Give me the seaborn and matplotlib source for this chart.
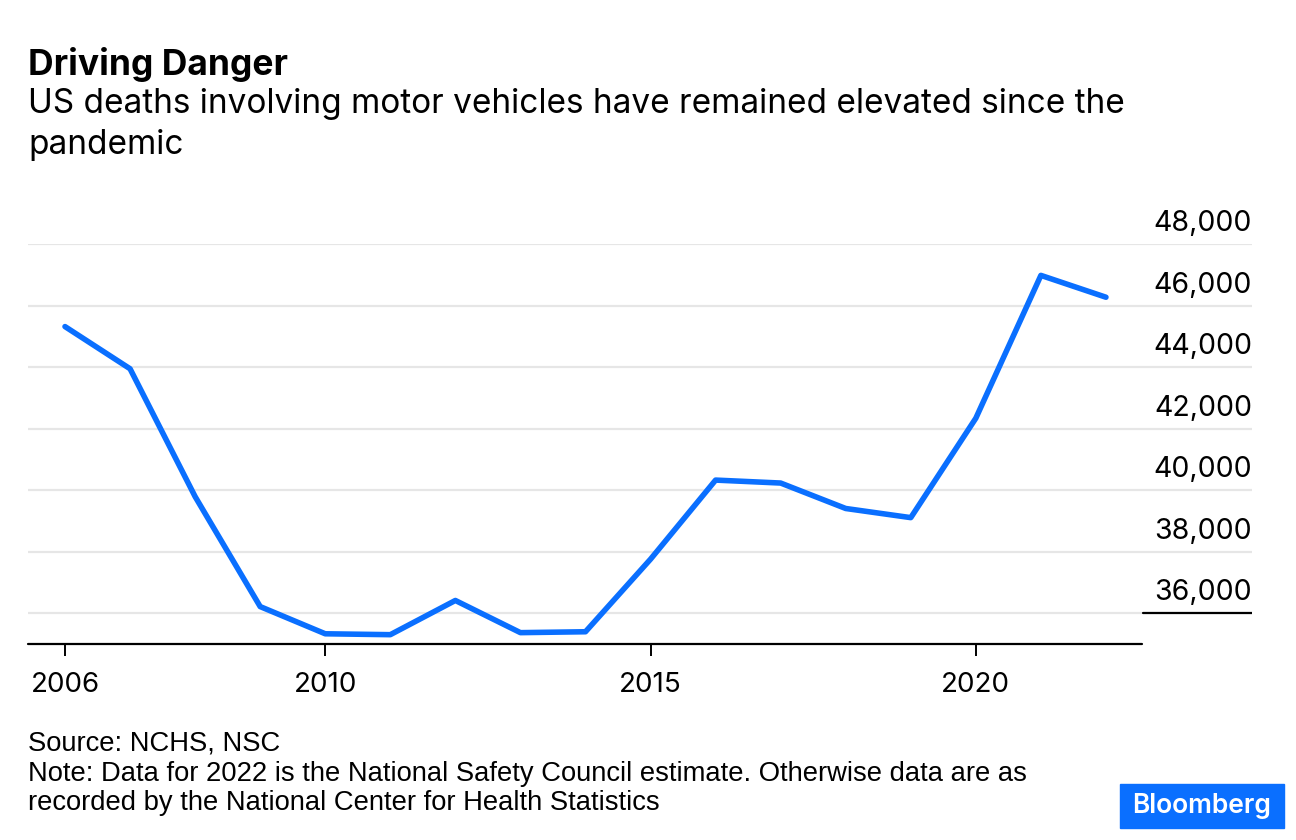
import matplotlib
matplotlib.use("Agg")
import matplotlib.pyplot as plt
import matplotlib.transforms as mtransforms
from matplotlib.patches import Rectangle
import seaborn as sns
import pandas as pd

# data
years = [2006, 2007, 2008, 2009, 2010, 2011, 2012, 2013, 2014,
         2015, 2016, 2017, 2018, 2019, 2020, 2021, 2022]
deaths = [45316, 43945, 39790, 36216, 35332, 35303, 36415, 35369, 35398,
          37757, 40327, 40231, 39404, 39107, 42339, 46980, 46270]
y_ticks = [36000, 38000, 40000, 42000, 44000, 46000, 48000]
x_ticks = [2006, 2010, 2015, 2020]

title = "Driving Danger"
subtitle_lines = ["US deaths involving motor vehicles have remained elevated since the",
                  "pandemic"]
source = "Source: NCHS, NSC"
note_lines = ["Note: Data for 2022 is the National Safety Council estimate. Otherwise data are as",
              "recorded by the National Center for Health Statistics"]

BLUE = "#0a6fff"
W, H = 1296, 840

sns.set_theme(style="white")
plt.rcParams['font.family'] = ['Inter', 'DejaVu Sans']
plt.rcParams['text.color'] = 'black'
plt.rcParams['xtick.color'] = 'black'

df = pd.DataFrame({"year": years, "deaths": deaths})

fig = plt.figure(figsize=(W / 100, H / 100), dpi=100)
# axes box in pixel coords: left 28, right 1252, top 244, bottom 644
ax = fig.add_axes([28 / W, 1 - 644 / H, (1252 - 28) / W, (644 - 244) / H])

x0 = 2006 - (65 - 28) / 65.06
x1 = 2006 + (1252 - 65) / 65.06
ax.set_xlim(x0, x1)
ax.set_ylim(35000, 48000)

# gridlines
for v in y_ticks:
    ax.axhline(v, color="#e6e6e6", lw=1.6, zorder=0)
# short dark segment under the bottom y label
ax.axhline(36000, xmin=(1143 - 28) / (1252 - 28), xmax=1.0, color="black", lw=1.6, zorder=1)

sns.lineplot(data=df, x="year", y="deaths", color=BLUE, lw=4.0, ax=ax, zorder=3)

for s in ax.spines.values():
    s.set_visible(False)
# x axis line, only under the plotting area
ax.axhline(35000, xmin=0, xmax=(1142 - 28) / (1252 - 28), color="black", lw=1.6,
           zorder=4, clip_on=False)

ax.set_xticks(x_ticks)
ax.set_xticklabels([str(t) for t in x_ticks], fontsize=20)
ax.tick_params(axis="x", bottom=True, length=8.5, width=1.4, color="black", pad=12,
               direction="out")
ax.set_yticks([])
ax.set_xlabel("")
ax.set_ylabel("")

# y labels sit above the gridlines at the right edge
trans = mtransforms.blended_transform_factory(ax.transAxes, ax.transData)
trans = trans + mtransforms.ScaledTranslation(0, 7 / 100, fig.dpi_scale_trans)
for v in y_ticks:
    ax.text(1.0, v, f"{v:,}", transform=trans, ha="right", va="bottom",
            fontsize=20.5, clip_on=False)

fig.text(28 / W, 1 - 75 / H, title, fontsize=25.5, fontweight="bold", ha="left", va="baseline")
for i, line in enumerate(subtitle_lines):
    fig.text(28 / W, 1 - (113 + 41 * i) / H, line, fontsize=24, ha="left", va="baseline")

foot_font = ['Liberation Sans', 'DejaVu Sans']
fig.text(28 / W, 1 - 750 / H, source, fontsize=19.7, ha="left", va="baseline", family=foot_font)
for i, line in enumerate(note_lines):
    fig.text(28 / W, 1 - (781 + 29 * i) / H, line, fontsize=19.7, ha="left", va="baseline",
             family=foot_font)

# Bloomberg badge
fig.patches.append(Rectangle((1120 / W, 1 - 828 / H), 164 / W, 44 / H,
                             transform=fig.transFigure, color=BLUE, zorder=5))
fig.text(1202 / W, 1 - 806 / H, "Bloomberg", fontsize=19, fontweight="semibold",
         color="white", ha="center", va="center", zorder=6)

fig.savefig("out.png", dpi=100, facecolor="white")
